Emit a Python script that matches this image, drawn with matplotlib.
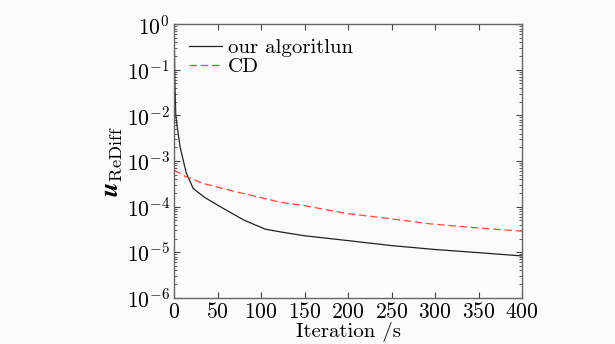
import numpy as np
import matplotlib
matplotlib.use('Agg')
import matplotlib.pyplot as plt

plt.rcParams['font.family'] = 'cmr10'
plt.rcParams['mathtext.fontset'] = 'cm'
plt.rcParams['axes.formatter.use_mathtext'] = True

# our algorithm
it_ours = [0, 1, 2, 4, 7, 14, 22, 35, 53, 80, 105, 122, 150, 200, 250, 300, 350, 400]
u_ours = [0.9, 0.05, 1e-2, 5e-3, 2e-3, 5.5e-4, 2.5e-4, 1.6e-4, 1e-4, 5.1e-5, 3.2e-5,
          2.8e-5, 2.3e-5, 1.8e-5, 1.4e-5, 1.15e-5, 9.8e-6, 8.3e-6]

# CD
it_cd = [0, 14, 34, 72, 122, 150, 198, 250, 294, 350, 400]
u_cd = [6.3e-4, 4.5e-4, 3.2e-4, 2.1e-4, 1.25e-4, 1.05e-4, 7.1e-5, 5.4e-5, 4.2e-5, 3.4e-5, 2.9e-5]

xticks = [0, 50, 100, 150, 200, 250, 300, 350, 400]

fig = plt.figure(figsize=(6.15, 3.44), dpi=100)
fig.patch.set_facecolor('#fbfbfb')
ax = fig.add_axes([0.283, 0.134, 0.566, 0.796])
ax.set_facecolor('#fbfbfb')

ax.semilogy(it_ours, u_ours, color='#222222', lw=0.9, label='our algoritlun')
ax.semilogy(it_cd, u_cd, color='#ff4a3a', lw=0.9, ls=(0, (6, 3)), label='CD')

ax.set_xlim(0, 400)
ax.set_ylim(1e-6, 1)
ax.set_xticks(xticks)
ax.set_yticks([1e-6, 1e-5, 1e-4, 1e-3, 1e-2, 1e-1, 1])

for s in ax.spines.values():
    s.set_color('#666666')
    s.set_linewidth(1.0)
ax.tick_params(which='both', direction='in', top=True, right=True, labelsize=15.5, color='#444444')
ax.tick_params(which='major', length=4, pad=3)
ax.tick_params(which='minor', length=2)
ax.tick_params(axis='x', which='minor', top=False, bottom=False)

ax.set_xlabel('Iteration /s', fontsize=15, labelpad=0)
ax.set_ylabel(r'$\boldsymbol{u}_{\rm ReDiff}$', fontsize=19, labelpad=2)

leg = ax.legend(loc='upper left', fontsize=15, frameon=False, handlelength=1.6,
                handletextpad=0.3, borderaxespad=0.3, labelspacing=0.0)

fig.savefig('out.png', dpi=100, facecolor=fig.get_facecolor())
